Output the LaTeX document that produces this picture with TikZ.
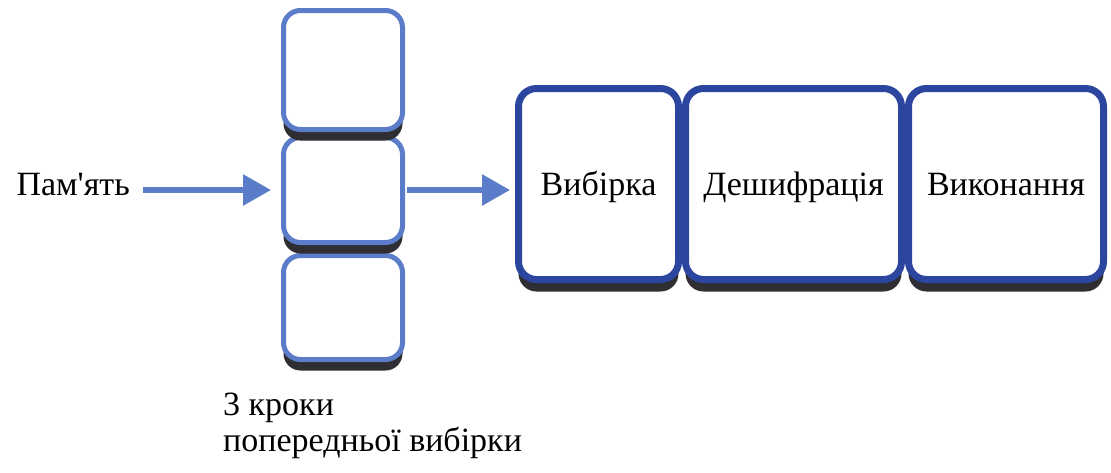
\documentclass[tikz,border=0pt]{standalone}
\usepackage{fontspec}
\setmainfont{Liberation Serif}[Ligatures=TeXOff]
\usetikzlibrary{arrows.meta,shadows}
\definecolor{lightblue}{HTML}{5B7CC8}
\definecolor{deepblue}{HTML}{2C46A0}
\definecolor{shadowgray}{HTML}{2E2E33}
\begin{document}
\begin{tikzpicture}[x=1pt,y=1pt,
  bufbox/.style={draw=lightblue, line width=5pt, fill=white, rounded corners=17pt,
    minimum width=119pt, inner sep=0pt,
    drop shadow={shadow xshift=0pt, shadow yshift=-11pt, fill=shadowgray, opacity=1}},
  stagebox/.style={draw=deepblue, line width=7pt, fill=white, rounded corners=18pt,
    minimum height=191pt, inner sep=0pt, font=\fontsize{34}{36}\selectfont,
    text height=24pt, text depth=2pt,
    drop shadow={shadow xshift=0pt, shadow yshift=-12pt, fill=shadowgray, opacity=1}},
  flow/.style={draw=lightblue, line width=6pt, -{Triangle[length=28pt,width=30pt]}},
  txt/.style={font=\fontsize{34}{36}\selectfont, inner sep=0pt}]
  \useasboundingbox[fill=white] (0,0) rectangle (1111,-472);

  % prefetch queue, drawn bottom-up so each shadow lies over the box below
  \node[bufbox, minimum height=104pt] (s3) at (343,-307.5) {};
  \node[bufbox, minimum height=105pt] (s2) at (343,-190) {};
  \node[bufbox, minimum height=119pt] (s1) at (343,-70) {};

  % pipeline stages
  \node[stagebox, minimum width=195pt] (exec) at (1006,-184) {Виконання};
  \node[stagebox, minimum width=216pt] (decode) at (793.5,-184) {Дешифрація};
  \node[stagebox, minimum width=160pt] (fetch) at (598.5,-184) {Вибірка};

  % source and caption
  \node[txt, anchor=base east] (mem) at (130,-195) {Пам'ять};
  \node[txt, anchor=north west, align=left] (cap) at (223,-393)
    {3 кроки\\попередньої вибірки};

  % data flow
  \draw[flow, shorten <=13pt, shorten >=10pt] (mem.east |- s2.west) -- (s2.west);
  \draw[flow, shorten <=2pt, shorten >=5pt] (s2.east) -- (fetch.west |- s2.east);
\end{tikzpicture}
\end{document}
